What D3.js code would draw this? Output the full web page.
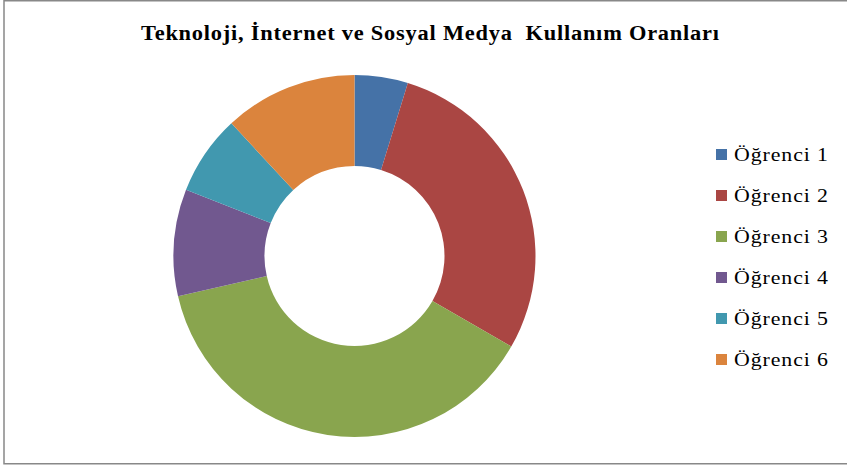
<!DOCTYPE html>
<html>
<head>
<meta charset="utf-8">
<script src="https://d3js.org/d3.v7.min.js"></script>
<style>
  body { margin: 0; background: #fff; }
</style>
</head>
<body>
<div id="chart"></div>
<script>
var categories = ["Öğrenci 1", "Öğrenci 2", "Öğrenci 3", "Öğrenci 4", "Öğrenci 5", "Öğrenci 6"];
var values = [2, 12, 16, 4, 3, 5];
var colors = ["#4572A7", "#AA4643", "#89A54E", "#71588F", "#4198AF", "#DB843D"];
var title = "Teknoloji, İnternet ve Sosyal Medya  Kullanım Oranları";

var width = 847, height = 466;
var serif = "Liberation Serif, Times New Roman, serif";

var svg = d3.select("#chart").append("svg")
    .attr("width", width)
    .attr("height", height);

// frame
svg.append("rect")
    .attr("x", 4)
    .attr("y", 0.75)
    .attr("width", 860)
    .attr("height", 463)
    .attr("fill", "#fff")
    .attr("stroke", "#888")
    .attr("stroke-width", 1.5);

// title, slightly stretched like the original rendering
var sx = 1.12;
svg.append("text")
    .attr("transform", "translate(141,40) scale(" + sx + ",1)")
    .attr("font-family", serif)
    .attr("font-weight", "bold")
    .attr("font-size", "20px")
    .attr("textLength", 578 / sx)
    .attr("lengthAdjust", "spacing")
    .attr("fill", "#000")
    .style("white-space", "pre")
    .text(title);

var pie = d3.pie().sort(null).value(function (d) { return d; });
var arc = d3.arc().innerRadius(90).outerRadius(181);

var g = svg.append("g")
    .attr("transform", "translate(354.5,256)");

g.selectAll("path")
    .data(pie(values))
    .enter().append("path")
    .attr("d", arc)
    .attr("fill", function (d, i) { return colors[i]; });

// legend
var legend = svg.append("g")
    .attr("transform", "translate(716,154)");

var item = legend.selectAll("g")
    .data(categories)
    .enter().append("g")
    .attr("transform", function (d, i) { return "translate(0," + (i * 41) + ")"; });

item.append("rect")
    .attr("x", 0)
    .attr("y", -5)
    .attr("width", 11)
    .attr("height", 11)
    .attr("fill", function (d, i) { return colors[i]; });

var lx = 1.15;
item.append("text")
    .attr("transform", "translate(18,7) scale(" + lx + ",1)")
    .attr("font-family", serif)
    .attr("font-size", "19px")
    .attr("textLength", 94 / lx)
    .attr("lengthAdjust", "spacing")
    .attr("fill", "#000")
    .text(function (d) { return d; });
</script>
</body>
</html>
